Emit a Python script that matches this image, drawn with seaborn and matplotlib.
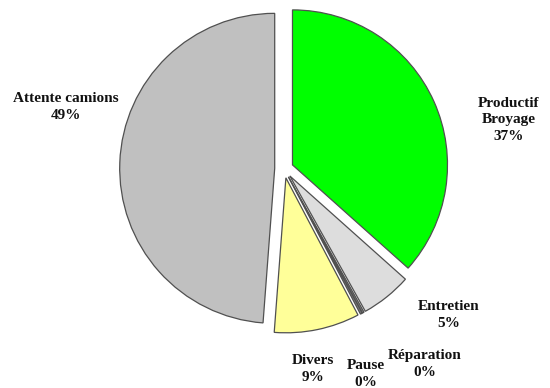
import matplotlib
matplotlib.use("Agg")
import matplotlib.pyplot as plt
import seaborn as sns

sns.set_theme(style="white")
plt.rcParams["font.family"] = ["Liberation Serif", "DejaVu Serif"]

# Share of time per activity (%)
categories = ["Productif\nBroyage", "Entretien", "Réparation", "Pause", "Divers", "Attente camions"]
shares = [36.6, 5.3, 0.2, 0.2, 8.9, 48.8]
colors = ["#00FF00", "#DDDDDD", "#808080", "#808080", "#FFFF99", "#C0C0C0"]

# Label anchor points (figure pixels, origin top-left)
label_xy = [(509, 120), (449, 315), (425, 364), (366, 374), (313, 369), (66, 107)]

W, H = 550, 388
RADIUS = 155
fig = plt.figure(figsize=(W / 100, H / 100), dpi=100)
ax = fig.add_axes([0, 0, 1, 1])

ax.pie(
    shares,
    colors=colors,
    startangle=90,
    counterclock=False,
    explode=[0.06 * RADIUS] * len(shares),
    center=(284, H - 168.7),
    radius=RADIUS,
    wedgeprops=dict(edgecolor="#505050", linewidth=0.9),
    frame=True,
)
ax.set_xlim(0, W)
ax.set_ylim(0, H)
ax.set_aspect("equal")
ax.axis("off")

for name, val, (x, y) in zip(categories, shares, label_xy):
    ax.text(x, H - y, f"{name}\n{val:.0f}%", ha="center", va="center",
            fontsize=11, fontweight="bold", linespacing=1.35, color="#111111")

fig.savefig("out.png", dpi=100)
